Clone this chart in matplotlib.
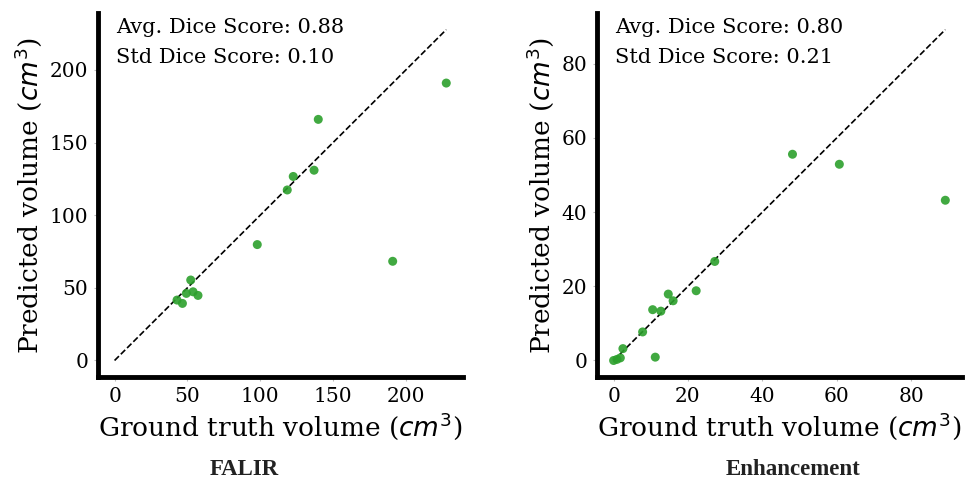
import matplotlib
matplotlib.use("Agg")
import matplotlib.pyplot as plt
import numpy as np

# FALIR panel
falir_gt = [227.8, 139.9, 137.0, 122.7, 118.6, 98.0, 191.0, 52.3, 49.3, 53.9, 57.3, 42.9, 46.6]
falir_pred = [191.0, 166.0, 131.0, 126.7, 117.4, 79.8, 68.3, 55.4, 46.2, 47.3, 44.8, 41.6, 39.3]
falir_ticks = [0, 50, 100, 150, 200]

# Enhancement panel
enh_gt = [89.2, 48.1, 60.7, 27.2, 22.2, 14.7, 16.0, 10.5, 12.7, 7.8, 11.2, 2.5, 1.8, 0.0, 0.9]
enh_pred = [43.2, 55.6, 52.9, 26.7, 18.8, 17.9, 16.1, 13.7, 13.3, 7.7, 0.9, 3.2, 0.7, 0.0, 0.3]
enh_ticks = [0, 20, 40, 60, 80]

panels = [
    ("FALIR", falir_gt, falir_pred, falir_ticks, "Avg. Dice Score: 0.88", "Std Dice Score: 0.10"),
    ("Enhancement", enh_gt, enh_pred, enh_ticks, "Avg. Dice Score: 0.80", "Std Dice Score: 0.21"),
]

plt.rcParams['font.family'] = ['DejaVu Serif']
plt.rcParams['mathtext.fontset'] = 'dejavusans'

fig = plt.figure(figsize=(9.73, 4.84), dpi=100)
lefts = [0.1007, 0.6136]
name_x = [0.2508, 0.815]
width = 0.375
bottom = 0.221
height = 0.752

for (name, gt, pred, ticks, avg, std), left, nx in zip(panels, lefts, name_x):
    ax = fig.add_axes([left, bottom, width, height])
    mx = max(gt)
    ax.plot([0, mx], [0, mx], linestyle='--', color='black', linewidth=1.2, zorder=1)
    ax.scatter(gt, pred, s=42, color='#2ca02c', alpha=0.9, edgecolors='none', zorder=2)
    ax.set_xticks(ticks)
    ax.set_yticks(ticks)
    ax.set_xlim(-0.05 * mx, 1.05 * mx)
    ax.set_ylim(-0.05 * mx, 1.05 * mx)
    for s in ['top', 'right']:
        ax.spines[s].set_visible(False)
    for s in ['left', 'bottom']:
        ax.spines[s].set_linewidth(3.5)
    ax.tick_params(axis='both', labelsize=14.5, length=3, width=0.8, color='#bbbbbb', pad=4)
    ax.set_xlabel(r'Ground truth volume ($cm^3$)', fontsize=19, labelpad=3)
    ax.set_ylabel(r'Predicted volume ($cm^3$)', fontsize=19, labelpad=4)
    ax.text(0.05, 0.96, avg, transform=ax.transAxes, fontsize=15, va='center', ha='left')
    ax.text(0.05, 0.877, std, transform=ax.transAxes, fontsize=15, va='center', ha='left')
    fig.text(nx, 1 - 469.5 / 484, name, fontsize=16.5, va='center', ha='center',
             family=['Liberation Serif'], fontweight='bold', color='#222222')

fig.savefig('out.png', dpi=100)
